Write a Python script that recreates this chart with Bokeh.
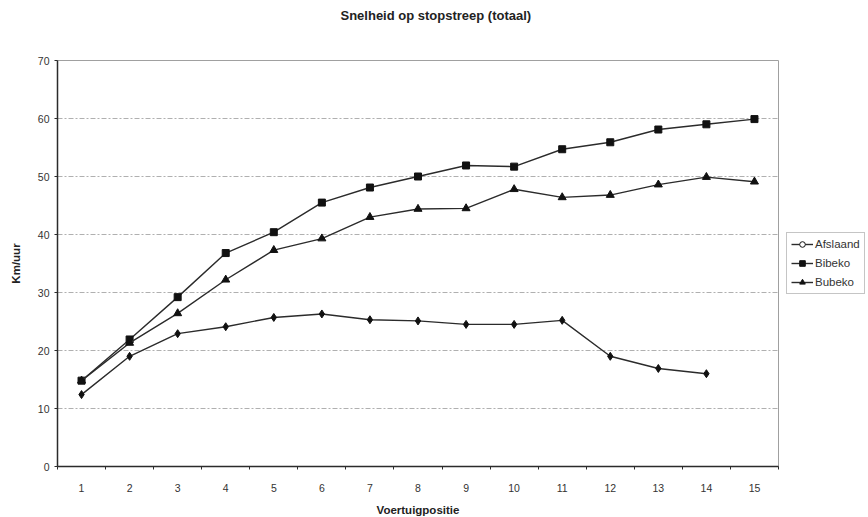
from bokeh.plotting import figure
from bokeh.models import (FixedTicker, Range1d, Legend, LegendItem, ColumnDataSource, Title)
from bokeh.embed import file_html
from bokeh.resources import INLINE

# Speed at the stop line per vehicle position in the queue
positions = list(range(1, 16))
afslaand = [12.4, 19.0, 22.9, 24.1, 25.7, 26.3, 25.3, 25.1, 24.5, 24.5, 25.2, 19.0, 16.9, 16.0]
bibeko = [14.8, 21.9, 29.2, 36.8, 40.4, 45.5, 48.1, 50.0, 51.9, 51.7, 54.7, 55.9, 58.1, 59.0, 59.9]
bubeko = [14.8, 21.3, 26.4, 32.2, 37.3, 39.3, 43.0, 44.4, 44.5, 47.8, 46.4, 46.8, 48.6, 49.9, 49.1]
y_ticks = [0, 10, 20, 30, 40, 50, 60, 70]
chart_title = "Snelheid op stopstreep (totaal)"

FONT = "Liberation Sans"
INK = "#2b2b2b"

p = figure(frame_width=721, frame_height=406, min_border_left=57, min_border_top=60,
           min_border_bottom=46, min_border_right=4,
           x_range=Range1d(0.5, 15.5), y_range=Range1d(0, 70),
           output_backend="svg", toolbar_location=None, title=None)

p.background_fill_color = "white"
p.border_fill_color = "white"
p.outline_line_color = "#a0a0a0"
p.outline_line_width = 1

# Title: a blank spacer panel next to the frame, the heading above it
p.add_layout(Title(text=" ", text_font=FONT, text_font_size="13px", standoff=16), "above")
p.add_layout(Title(text=chart_title, align="left", offset=283,
                   text_font=FONT, text_font_size="13px", text_font_style="bold",
                   text_color="#222222"), "above")

# Axes
p.xaxis.ticker = FixedTicker(ticks=positions,
                             minor_ticks=[x + 0.5 for x in range(0, 16)])
p.xaxis.major_tick_out = 0
p.xaxis.major_tick_in = 0
p.xaxis.minor_tick_out = 3
p.xaxis.minor_tick_in = 0
p.xaxis.major_label_standoff = 14
p.xaxis.axis_label = "Voertuigpositie"
p.xaxis.axis_label_standoff = 9

p.yaxis.ticker = FixedTicker(ticks=y_ticks, minor_ticks=[])
p.yaxis.major_tick_out = 3
p.yaxis.major_tick_in = 0
p.yaxis.major_label_standoff = 5
p.yaxis.axis_label = "Km/uur"
p.yaxis.axis_label_standoff = 13

for ax in (p.xaxis, p.yaxis):
    ax.axis_line_color = INK
    ax.axis_line_width = 1.5
    ax.major_tick_line_color = INK
    ax.minor_tick_line_color = INK
    ax.major_label_text_font = FONT
    ax.major_label_text_font_size = "10.5px"
    ax.major_label_text_color = "#333333"
    ax.axis_label_text_font = FONT
    ax.axis_label_text_font_size = "11.5px"
    ax.axis_label_text_font_style = "bold"
    ax.axis_label_text_color = "#222222"

p.xgrid.grid_line_color = None
p.ygrid.ticker = FixedTicker(ticks=y_ticks[1:-1])
p.ygrid.grid_line_color = "#b0b0b0"
p.ygrid.grid_line_dash = "5 2 2 2"
p.ygrid.grid_line_width = 1

# Series
xa = positions[:len(afslaand)]
p.line(xa, afslaand, line_color=INK, line_width=1.4)
p.scatter(xa, afslaand, marker="diamond", size=8, fill_color="#111111", line_color="#111111")

p.line(positions, bibeko, line_color=INK, line_width=1.4)
p.scatter(positions, bibeko, marker="square", size=7, fill_color="#111111", line_color="#111111")

p.line(positions, bubeko, line_color=INK, line_width=1.4)
p.scatter(positions, bubeko, marker="triangle", size=8, fill_color="#111111", line_color="#111111")

# Legend swatches: a single point placed outside the visible range,
# so the glyphs only appear inside the legend box
def swatch(marker, fill, size):
    src = ColumnDataSource(data=dict(x=[-100], y=[-100]))
    ln = p.line("x", "y", source=src, line_color=INK, line_width=1.4)
    mk = p.scatter("x", "y", source=src, marker=marker, size=size,
                   fill_color=fill, line_color="#111111")
    return [ln, mk]

legend = Legend(items=[
    LegendItem(label="Afslaand", renderers=swatch("circle", "white", 5)),
    LegendItem(label="Bibeko", renderers=swatch("square", "#111111", 6)),
    LegendItem(label="Bubeko", renderers=swatch("triangle", "#111111", 6)),
], location="left")
legend.label_text_font = FONT
legend.label_text_font_size = "11.5px"
legend.label_text_color = "#333333"
legend.glyph_width = 22
legend.glyph_height = 14
legend.label_standoff = 2
legend.spacing = 5
legend.padding = 4
legend.margin = 8
legend.label_height = 14
legend.border_line_color = "#8c8c8c"
legend.border_line_width = 1
legend.background_fill_color = "white"
p.add_layout(legend, "right")

open("out.html", "w").write(file_html(p, INLINE))
